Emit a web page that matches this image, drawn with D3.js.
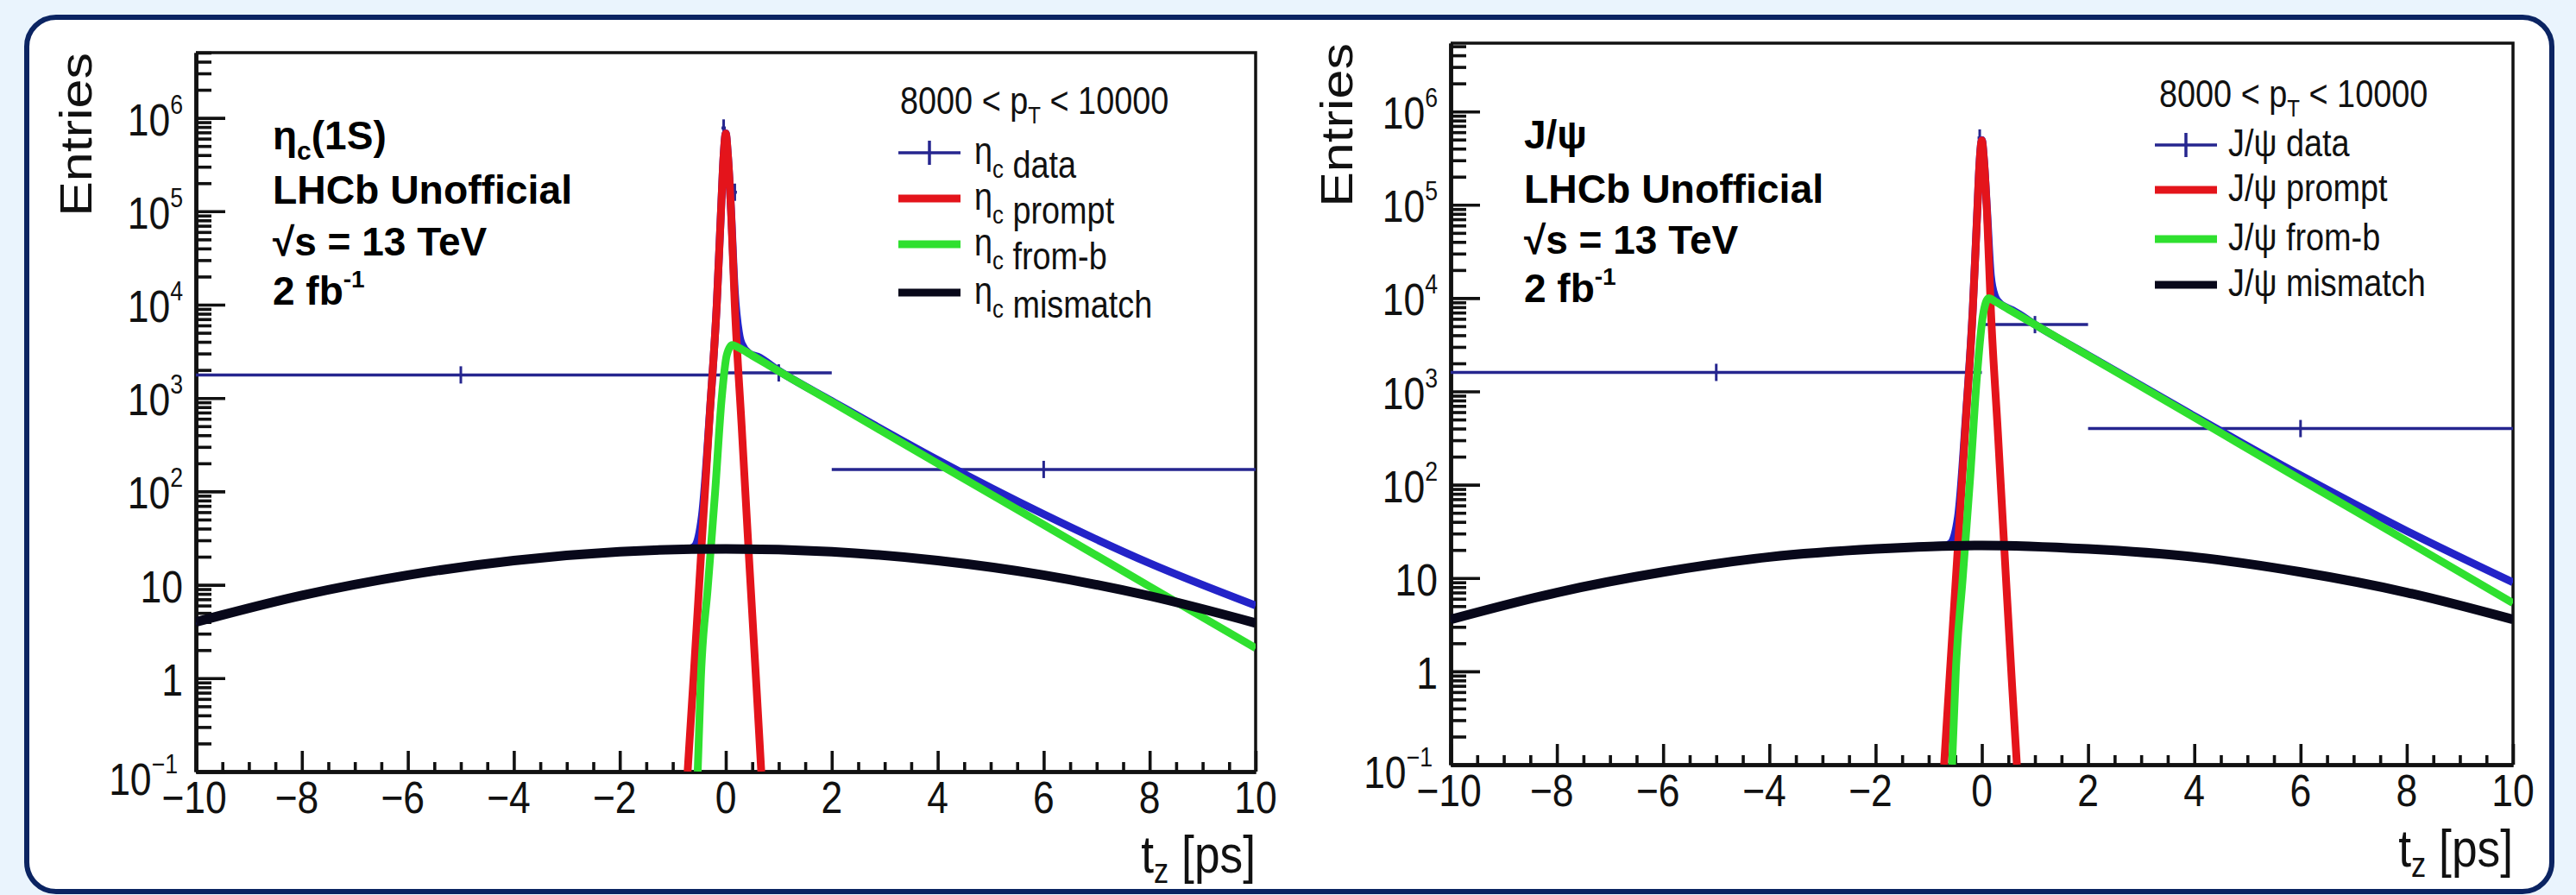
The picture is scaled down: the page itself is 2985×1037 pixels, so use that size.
<!DOCTYPE html>
<html><head><meta charset="utf-8">
<script src="https://cdn.jsdelivr.net/npm/d3@7"></script>
<style>
html,body{margin:0;padding:0;background:#eaf4fd;}
svg{display:block;}
text{font-family:"Liberation Sans",Arial,Helvetica,sans-serif;}
</style></head><body>
<svg id="c" width="2985" height="1037"></svg>
<script>
// ---------- axis ticks ----------
const xMajorTicks = [-10,-8,-6,-4,-2,0,2,4,6,8,10];
const xMinorTicks = [-9.5,-9,-8.5,-7.5,-7,-6.5,-5.5,-5,-4.5,-3.5,-3,-2.5,-1.5,-1,-0.5,0.5,1,1.5,2.5,3,3.5,4.5,5,5.5,6.5,7,7.5,8.5,9,9.5];
const yMajorTicks = [0.1,1,10,100,1e3,1e4,1e5,1e6];
const yTickBase = ["10","1","10","10","10","10","10","10"];
const yTickExp  = ["\u22121","","","2","3","4","5","6"];

// ---------- eta_c(1S) panel ----------
const etaBroadT   = [-10,-8,-6,-4,-2,0,2,4,6,8,10];
const etaMismatch = [4.0,7.7,12.7,18.2,22.6,24.3,22.6,18.2,12.7,7.6,3.9];
const etaPromptT  = [-0.72,-0.6,-0.45,-0.3,-0.17,-0.09,-0.04,0,0.04,0.1,0.17,0.3,0.45,0.58,0.67];
const etaPrompt   = [0.1,1.2,30,700,1e4,1e5,4e5,6.8e5,4e5,1e5,1e4,500,15,0.8,0.1];
const etaFromBT   = [-0.53,-0.47,-0.34,-0.2,-0.08,0.02,0.12,0.25,0.5,1,2,4,6,8,10];
const etaFromB    = [0.1,1,9.3,100,950,2900,3700,3450,2850,1940,909,199,44,9.6,2.1];
const etaTotalT   = [-10,-8,-6,-4,-2,-0.8,-0.7,-0.6,-0.45,-0.3,-0.17,-0.09,-0.04,0,0.04,0.1,0.17,0.25,0.3,0.45,0.6,1,2,4,6,8,10];
const etaTotal    = [4.0,7.7,12.7,18.2,22.6,24.1,24.3,25.5,55,720,1.01e4,1.01e5,4e5,6.85e5,4e5,1.02e5,1.4e4,5000,3820,2990,2780,1960,930,217,57,17,6.0];
const etaDataLo   = [-10,0,2,-0.08,0.13];
const etaDataHi   = [0,2,10,0.0,0.21];
const etaDataX    = [-5,1,6,-0.04,0.17];
const etaDataY    = [1770,1860,172,7.8e5,1.6e5];

// ---------- J/psi panel ----------
const jpsiBroadT   = [-10,-8,-6,-4,-2,0,2,4,6,8,10];
const jpsiMismatch = [3.6,7.0,11.6,16.8,20.5,22.4,20.5,16.8,11.6,7.0,3.6];
const jpsiPromptT  = [-0.71,-0.6,-0.45,-0.3,-0.17,-0.09,-0.04,0,0.04,0.1,0.17,0.3,0.45,0.57,0.66];
const jpsiPrompt   = [0.1,1.0,22,500,7500,7.5e4,3e5,4.9e5,3e5,7.5e4,7500,380,11,0.7,0.1];
const jpsiFromBT   = [-0.56,-0.49,-0.36,-0.22,-0.09,0.02,0.13,0.25,0.5,1,2,4,6,8,10];
const jpsiFromB    = [0.1,1,10,120,1500,6500,1.0e4,9200,7600,5190,2420,526,114,24.9,5.4];
const jpsiTotalT   = [-10,-8,-6,-4,-2,-0.8,-0.7,-0.6,-0.45,-0.3,-0.17,-0.09,-0.04,0,0.04,0.1,0.17,0.25,0.3,0.45,0.6,1,2,4,6,8,10];
const jpsiTotal    = [3.6,7.0,11.6,16.8,20.5,22.2,22.3,23.3,45,551,7840,7.65e4,3.03e5,4.95e5,3.05e5,8.4e4,1.74e4,1.04e4,9300,8000,7300,5210,2440,543,126,32,9.0];
const jpsiDataLo   = [-10,0,2,-0.08,0.06];
const jpsiDataHi   = [0,2,10,0.0,0.14];
const jpsiDataX    = [-5,1,6,-0.04,0.1];
const jpsiDataY    = [1600,5200,400,5.2e5,1.35e5];

// ---------- text ----------
const legendHeader = ["8000 < p", "T", " < 10000"];
const legendNames  = ["data","prompt","from-b","mismatch"];
const colors = {data:"#26268f", total:"#2323c8", prompt:"#e4141b", fromb:"#2fe02f", mismatch:"#08081a"};

const svg = d3.select("#c");
// background card
svg.append("rect").attr("x",31).attr("y",20).attr("width",2926).attr("height",1013)
  .attr("rx",34).attr("fill","#ffffff").attr("stroke","#0b2462").attr("stroke-width",6);

const SQ = 0.86; // horizontal squeeze of the original raster text
function sqText(g, x, y, size, anchor){
  return g.append("text").attr("transform",`translate(${x},${y}) scale(${SQ},1)`)
    .attr("font-size",size).attr("text-anchor",anchor||"start").attr("fill","#111");
}

function panel(cfg){
  const g = svg.append("g");
  const x = d3.scaleLinear().domain([-10,10]).range([cfg.x0,cfg.x1]);
  const y = d3.scaleLog().domain([0.1,cfg.ymax]).range([cfg.yb,cfg.yt]);
  const id = "clip"+cfg.name;
  svg.append("clipPath").attr("id",id).append("rect")
    .attr("x",cfg.x0).attr("y",cfg.yt).attr("width",cfg.x1-cfg.x0).attr("height",cfg.yb-cfg.yt);

  // frame top / right
  g.append("path").attr("d",`M${cfg.x0},${cfg.yt}H${cfg.x1}V${cfg.yb}`).attr("fill","none")
    .attr("stroke","#111").attr("stroke-width",3.5);

  // y axis: major and minor ticks (inward)
  const minorY = [];
  for(let e=-1;e<=6;e++) for(let m=2;m<=9;m++){ const v=m*Math.pow(10,e); if(v<=cfg.ymax) minorY.push(v); }
  const ayMin = d3.axisLeft(y).tickValues(minorY).tickSizeInner(-18).tickSizeOuter(0).tickFormat("");
  const ayMaj = d3.axisLeft(y).tickValues(yMajorTicks).tickSizeInner(-34).tickSizeOuter(0).tickFormat("");
  [ayMin,ayMaj].forEach(a=>{
    const ga = g.append("g").attr("transform",`translate(${cfg.x0},0)`).call(a);
    ga.select(".domain").attr("stroke","#111").attr("stroke-width",4.5);
    ga.selectAll(".tick line").attr("stroke","#111").attr("stroke-width",3.6);
  });
  // x axis
  const axMin = d3.axisBottom(x).tickValues(xMinorTicks).tickSizeInner(-11).tickSizeOuter(0).tickFormat("");
  const axMaj = d3.axisBottom(x).tickValues(xMajorTicks).tickSizeInner(-24).tickSizeOuter(0).tickFormat("");
  [axMin,axMaj].forEach(a=>{
    const ga = g.append("g").attr("transform",`translate(0,${cfg.yb})`).call(a);
    ga.select(".domain").attr("stroke","#111").attr("stroke-width",4.5);
    ga.selectAll(".tick line").attr("stroke","#111").attr("stroke-width",3.6);
  });

  // y tick labels
  yMajorTicks.forEach((v,i)=>{
    const low = i===0 ? 7 : 0;
    const t = sqText(g, cfg.x0-15-(i===0?6:0), y(v)+20+low, 51.7, "end");
    t.append("tspan").text(yTickBase[i]);
    if(yTickExp[i]) t.append("tspan").attr("font-size",31).attr("dy",-25).text(yTickExp[i]);
  });
  // x tick labels
  xMajorTicks.forEach(v=>{
    sqText(g, x(v)+(v<0?-6:0)+(v===-10?4:0), cfg.yb+48, 51.7, "middle").text(v<0? "\u2212"+(-v) : String(v));
  });
  // axis titles
  const xt = sqText(g, cfg.x1, cfg.yb+cfg.xtOff, 62, "end");
  xt.append("tspan").text("t");
  xt.append("tspan").attr("font-size",40).attr("dy",12).text("z");
  xt.append("tspan").attr("dy",-12).text(" [ps]");
  g.append("text").attr("transform",`translate(${cfg.ylabX},${cfg.yt}) scale(${SQ},1) rotate(-90)`)
    .attr("font-size",61).attr("text-anchor","end").attr("fill","#111").text("Entries");

  // curves
  const cg = g.append("g").attr("clip-path",`url(#${id})`);
  const line = d3.line().x(d=>x(d[0])).y(d=>y(d[1])).curve(d3.curveMonotoneX);
  const zipT = (ts,vs)=>ts.map((t,i)=>[t,vs[i]]);
  // data points
  cfg.dataLo.forEach((lo,i)=>{
    cg.append("line").attr("x1",x(lo)).attr("x2",x(cfg.dataHi[i])).attr("y1",y(cfg.dataY[i])).attr("y2",y(cfg.dataY[i]))
      .attr("stroke",colors.data).attr("stroke-width",3.5);
    cg.append("line").attr("x1",x(cfg.dataX[i])).attr("x2",x(cfg.dataX[i])).attr("y1",y(cfg.dataY[i])-10).attr("y2",y(cfg.dataY[i])+10)
      .attr("stroke",colors.data).attr("stroke-width",3);
  });
  cg.append("path").attr("d",line(zipT(cfg.totalT,cfg.total))).attr("fill","none").attr("stroke",colors.total).attr("stroke-width",9);
  cg.append("path").attr("d",line(zipT(cfg.promptT,cfg.prompt))).attr("fill","none").attr("stroke",colors.prompt).attr("stroke-width",9);
  cg.append("path").attr("d",line(zipT(cfg.fromBT,cfg.fromB))).attr("fill","none").attr("stroke",colors.fromb).attr("stroke-width",9);
  cg.append("path").attr("d",line(zipT(cfg.broadT,cfg.mismatch))).attr("fill","none").attr("stroke",colors.mismatch).attr("stroke-width",11);

  // annotation (bold)
  const ag = g.append("g").attr("fill","#000");
  const mk = (i)=>ag.append("text").attr("x",cfg.annX).attr("y",cfg.annY[i]).attr("font-size",46)
      .attr("font-family","Lato, 'DejaVu Sans', sans-serif").attr("font-weight",700);
  cfg.annTitle(mk(0));
  mk(1).attr("textLength",347).attr("lengthAdjust","spacingAndGlyphs").text("LHCb Unofficial");
  mk(2).text("\u221As = 13 TeV");
  const a3 = mk(3);
  a3.append("tspan").text("2 fb");
  a3.append("tspan").attr("font-size",28).attr("dy",-20).text("-1");

  // legend
  const lh = sqText(g, cfg.legX, cfg.legY[0], 44, "start");
  lh.append("tspan").text(legendHeader[0]);
  lh.append("tspan").attr("font-size",28).attr("dy",11).text(legendHeader[1]);
  lh.append("tspan").attr("dy",-11).text(legendHeader[2]);
  const legCol = [colors.data, colors.prompt, colors.fromb, colors.mismatch];
  legendNames.forEach((nm,i)=>{
    const yy = cfg.legY[i+1];
    g.append("line").attr("x1",cfg.legSymX).attr("x2",cfg.legSymX+72).attr("y1",yy-13).attr("y2",yy-13)
      .attr("stroke",legCol[i]).attr("stroke-width",i===0?3.5:9);
    if(i===0) g.append("line").attr("x1",cfg.legSymX+36).attr("x2",cfg.legSymX+36).attr("y1",yy-27).attr("y2",yy+1)
      .attr("stroke",legCol[i]).attr("stroke-width",3.5);
    const t = sqText(g, cfg.legTextX, yy, 44, "start");
    cfg.legPrefix(t);
    t.append("tspan").text(" "+nm);
  });
}

panel({name:"eta", x0:227, x1:1455, yt:61, yb:894, ymax:5.0e6, xtOff:117, ylabX:106,
  broadT:etaBroadT, mismatch:etaMismatch, promptT:etaPromptT, prompt:etaPrompt, fromBT:etaFromBT, fromB:etaFromB,
  totalT:etaTotalT, total:etaTotal, dataLo:etaDataLo, dataHi:etaDataHi, dataX:etaDataX, dataY:etaDataY,
  annX:316, annY:[173,236,296,353],
  annTitle:t=>{ t.append("tspan").text("\u03B7"); t.append("tspan").attr("font-size",30).attr("dy",12).text("c"); t.append("tspan").attr("dy",-12).text("(1S)"); },
  legX:1043, legY:[132,190,243,296,352], legSymX:1041, legTextX:1129,
  legPrefix:t=>{ t.append("tspan").text("\u03B7"); t.append("tspan").attr("font-size",30).attr("dy",16).text("c"); t.append("tspan").attr("dy",-16).text(""); }
});
panel({name:"jpsi", x0:1681, x1:2912, yt:50, yb:886, ymax:5.4e6, xtOff:118, ylabX:1567,
  broadT:jpsiBroadT, mismatch:jpsiMismatch, promptT:jpsiPromptT, prompt:jpsiPrompt, fromBT:jpsiFromBT, fromB:jpsiFromB,
  totalT:jpsiTotalT, total:jpsiTotal, dataLo:jpsiDataLo, dataHi:jpsiDataHi, dataX:jpsiDataX, dataY:jpsiDataY,
  annX:1766, annY:[172,235,294,350],
  annTitle:t=>{ t.text("J/\u03C8"); },
  legX:2502, legY:[124,181,233,290,343], legSymX:2497, legTextX:2582,
  legPrefix:t=>{ t.append("tspan").text("J/\u03C8"); }
});
</script></body></html>
